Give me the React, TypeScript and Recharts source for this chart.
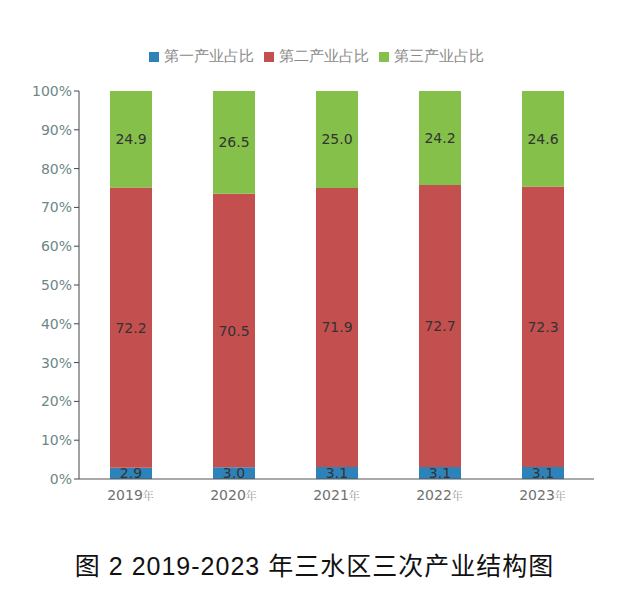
import React from "react";
import { BarChart, Bar, XAxis, YAxis, LabelList } from "recharts";

const years = ["2019", "2020", "2021", "2022", "2023"];
const primaryShare = [2.9, 3.0, 3.1, 3.1, 3.1];
const secondaryShare = [72.2, 70.5, 71.9, 72.7, 72.3];
const tertiaryShare = [24.9, 26.5, 25.0, 24.2, 24.6];
const yTicks = [0, 10, 20, 30, 40, 50, 60, 70, 80, 90, 100];

const SERIES = [
  { key: "primary", name: "第一产业占比", color: "#2d83b9" },
  { key: "secondary", name: "第二产业占比", color: "#c44f4f" },
  { key: "tertiary", name: "第三产业占比", color: "#84c04a" },
];

const chartData = years.map((y, i) => ({
  year: y,
  primary: primaryShare[i],
  secondary: secondaryShare[i],
  tertiary: tertiaryShare[i],
}));

function YearTick(props: any) {
  const { x, y, payload } = props;
  return (
    <text x={x} y={y + 13} textAnchor="middle" fill="#6f6f6f">
      <tspan fontSize={14} fontFamily="DejaVu Sans">
        {payload.value}
      </tspan>
      <tspan fontSize={11} fontFamily="'Noto Serif CJK SC', 'Noto Sans CJK SC'" fill="#999">
        年
      </tspan>
    </text>
  );
}

function Legend() {
  return (
    <div
      style={{
        position: "absolute",
        top: 47,
        left: 0,
        width: 629,
        display: "flex",
        justifyContent: "center",
        gap: 10,
        paddingLeft: 4,
        boxSizing: "border-box",
      }}
    >
      {SERIES.map((s) => (
        <div key={s.key} style={{ display: "flex", alignItems: "center", gap: 5 }}>
          <span style={{ width: 10, height: 10, background: s.color, display: "inline-block" }} />
          <span style={{ fontSize: 14.5, color: "#8a8a8a", fontFamily: "serif" }}>{s.name}</span>
        </div>
      ))}
    </div>
  );
}

export default function App() {
  return (
    <div
      style={{
        position: "absolute",
        top: 0,
        left: 0,
        width: 629,
        height: 599,
        background: "#fff",
      }}
    >
      <Legend />
      <BarChart
        width={629}
        height={530}
        data={chartData}
        margin={{ top: 91, right: 35, left: 0, bottom: 21 }}
        barSize={42}
      >
        <YAxis
          width={79}
          domain={[0, 100]}
          ticks={yTicks}
          interval={0}
          tickFormatter={(v) => `${v}%`}
          tick={{ fontSize: 14, fill: "#6d8787", fontFamily: "DejaVu Sans" }}
          stroke="#444"
          tickSize={5}
        />
        <XAxis
          dataKey="year"
          height={30}
          tick={<YearTick />}
          tickLine={false}
          stroke="#555"
        />
        {SERIES.map((s) => (
          <Bar
            key={s.key}
            dataKey={s.key}
            name={s.name}
            stackId="a"
            fill={s.color}
            isAnimationActive={false}
          >
            <LabelList
              dataKey={s.key}
              position="center"
              formatter={(v: any) => Number(v).toFixed(1)}
              fill="#333"
              fontSize={14}
              fontFamily="DejaVu Sans"
            />
          </Bar>
        ))}
      </BarChart>
      <div
        style={{
          position: "absolute",
          top: 546,
          left: 0,
          width: 629,
          textAlign: "center",
          fontSize: 25,
          color: "#111",
          fontFamily: "'Liberation Sans', 'Noto Sans CJK SC', sans-serif",
          letterSpacing: 1,
        }}
      >
        图 2 2019-2023 年三水区三次产业结构图
      </div>
    </div>
  );
}
